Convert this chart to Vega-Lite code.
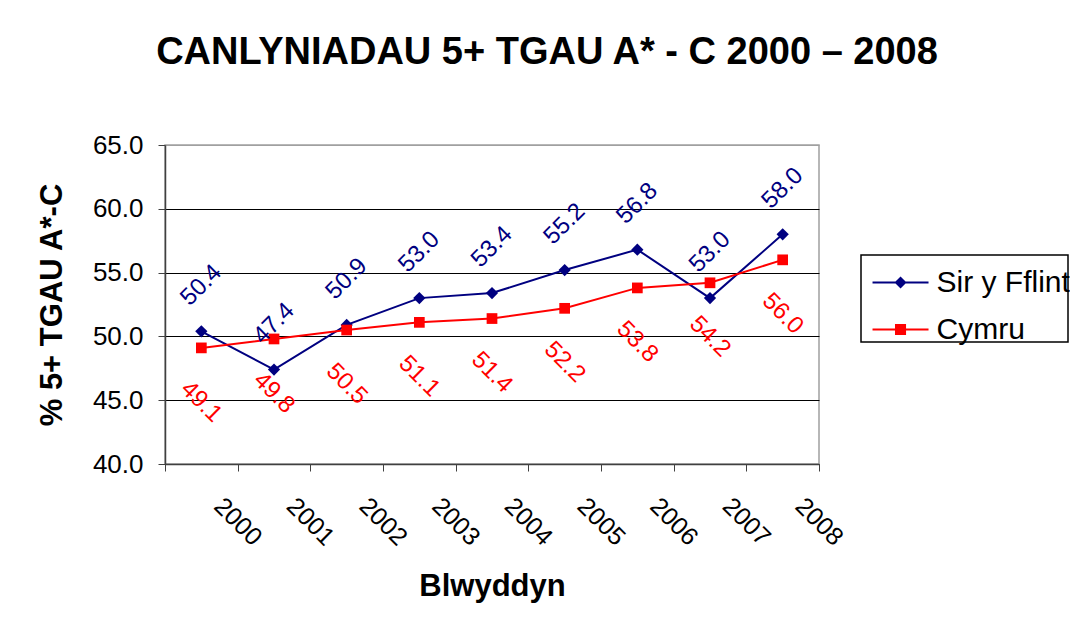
{
  "$schema": "https://vega.github.io/schema/vega-lite/v6.json",
  "width": 654,
  "height": 319,
  "autosize": {"type": "none"},
  "padding": {"left": 165, "top": 145, "right": 251, "bottom": 165},
  "background": "white",
  "title": {
    "text": "CANLYNIADAU 5+ TGAU A* - C 2000 – 2008",
    "font": "Liberation Sans",
    "fontSize": 38,
    "fontWeight": "bold",
    "color": "black",
    "anchor": "middle",
    "frame": "group",
    "baseline": "alphabetic",
    "offset": 30,
    "dx": 55
  },
  "config": {
    "view": {"stroke": "#a0a0a0", "strokeWidth": 1.5},
    "axis": {"labelFont": "Liberation Sans", "titleFont": "Liberation Sans", "labelColor": "black", "titleColor": "black"},
    "legend": {
      "title": null,
      "orient": "none",
      "legendX": 696,
      "legendY": 110,
      "strokeColor": "black",
      "strokeWidth": 1.5,
      "fillColor": "white",
      "padding": -2.5,
      "labelFont": "Liberation Sans",
      "labelFontSize": 30,
      "labelColor": "black",
      "labelOffset": 48,
      "labelLimit": 400,
      "rowPadding": 2,
      "symbolSize": 196,
      "symbolStrokeWidth": 0,
      "symbolOpacity": 1
    }
  },
  "data": {
    "values": [
      {"year": "2000", "series": "Sir y Fflint", "value": 50.4},
      {"year": "2001", "series": "Sir y Fflint", "value": 47.4},
      {"year": "2002", "series": "Sir y Fflint", "value": 50.9},
      {"year": "2003", "series": "Sir y Fflint", "value": 53.0},
      {"year": "2004", "series": "Sir y Fflint", "value": 53.4},
      {"year": "2005", "series": "Sir y Fflint", "value": 55.2},
      {"year": "2006", "series": "Sir y Fflint", "value": 56.8},
      {"year": "2007", "series": "Sir y Fflint", "value": 53.0},
      {"year": "2008", "series": "Sir y Fflint", "value": 58.0},
      {"year": "2000", "series": "Cymru", "value": 49.1},
      {"year": "2001", "series": "Cymru", "value": 49.8},
      {"year": "2002", "series": "Cymru", "value": 50.5},
      {"year": "2003", "series": "Cymru", "value": 51.1},
      {"year": "2004", "series": "Cymru", "value": 51.4},
      {"year": "2005", "series": "Cymru", "value": 52.2},
      {"year": "2006", "series": "Cymru", "value": 53.8},
      {"year": "2007", "series": "Cymru", "value": 54.2},
      {"year": "2008", "series": "Cymru", "value": 56.0}
    ]
  },
  "encoding": {
    "x": {
      "field": "year",
      "type": "ordinal",
      "scale": {"type": "band", "paddingInner": 0, "paddingOuter": 0},
      "axis": {
        "title": "Blwyddyn",
        "titleFontSize": 31,
        "titleFontWeight": "bold",
        "titlePadding": 21,
        "labelFontSize": 25,
        "labelAngle": 45,
        "labelAlign": "left",
        "labelBaseline": "top",
        "labelOffset": 25,
        "labelPadding": 22,
        "tickBand": "extent",
        "tickSize": 7,
        "tickColor": "#404040",
        "domainColor": "#404040",
        "domainWidth": 1.5,
        "grid": false
      }
    },
    "y": {
      "field": "value",
      "type": "quantitative",
      "scale": {"domain": [40, 65], "nice": false, "zero": false},
      "axis": {
        "title": "% 5+ TGAU A*-C",
        "titleFontSize": 31,
        "titleFontWeight": "bold",
        "titlePadding": 24,
        "values": [40, 45, 50, 55, 60, 65],
        "format": ".1f",
        "labelFontSize": 26,
        "labelPadding": 15,
        "tickSize": 7,
        "tickColor": "#404040",
        "domainColor": "#404040",
        "domainWidth": 1.5,
        "grid": true,
        "gridColor": {"condition": {"test": "datum.value === 65", "value": "#a0a0a0"}, "value": "black"},
        "gridWidth": 1
      }
    },
    "color": {
      "field": "series",
      "type": "nominal",
      "scale": {"domain": ["Sir y Fflint", "Cymru"], "range": ["#000080", "#FF0000"]},
      "legend": {"title": null, "encode": {"labels": {"update": {"dy": {"value": 15}}}}}
    }
  },
  "layer": [
    {
      "mark": {"type": "line", "strokeWidth": 2}
    },
    {
      "transform": [{"filter": "datum.value > 1000"}],
      "mark": {"type": "point", "filled": true, "size": 196, "opacity": 1},
      "encoding": {
        "shape": {
          "field": "series",
          "type": "nominal",
          "scale": {
            "domain": ["Sir y Fflint", "Cymru"],
            "range": [
              "M-0.14,2.0H7.86V2.28H-0.14Z M3.0,2.14L3.86,1.28L4.72,2.14L3.86,3.0Z",
              "M-0.14,2.0H7.86V2.28H-0.14Z M3.07,1.35H4.65V2.93H3.07Z"
            ]
          },
          "legend": {"title": null, "encode": {"labels": {"update": {"dy": {"value": 15}}}}}
        }
      }
    },
    {
      "transform": [{"filter": "datum.series === 'Sir y Fflint'"}],
      "mark": {"type": "point", "shape": "diamond", "filled": true, "size": 150, "opacity": 1}
    },
    {
      "transform": [{"filter": "datum.series === 'Cymru'"}],
      "mark": {"type": "point", "shape": "square", "filled": true, "size": 115, "opacity": 1}
    },
    {
      "transform": [{"filter": "datum.series === 'Sir y Fflint'"}],
      "mark": {"type": "text", "angle": -45, "align": "center", "baseline": "middle", "yOffset": -46, "font": "Liberation Sans", "fontSize": 24},
      "encoding": {"text": {"field": "value", "type": "quantitative", "format": ".1f"}}
    },
    {
      "transform": [{"filter": "datum.series === 'Cymru'"}],
      "mark": {"type": "text", "angle": 45, "align": "center", "baseline": "middle", "yOffset": 54, "font": "Liberation Sans", "fontSize": 24},
      "encoding": {"text": {"field": "value", "type": "quantitative", "format": ".1f"}}
    }
  ]
}
